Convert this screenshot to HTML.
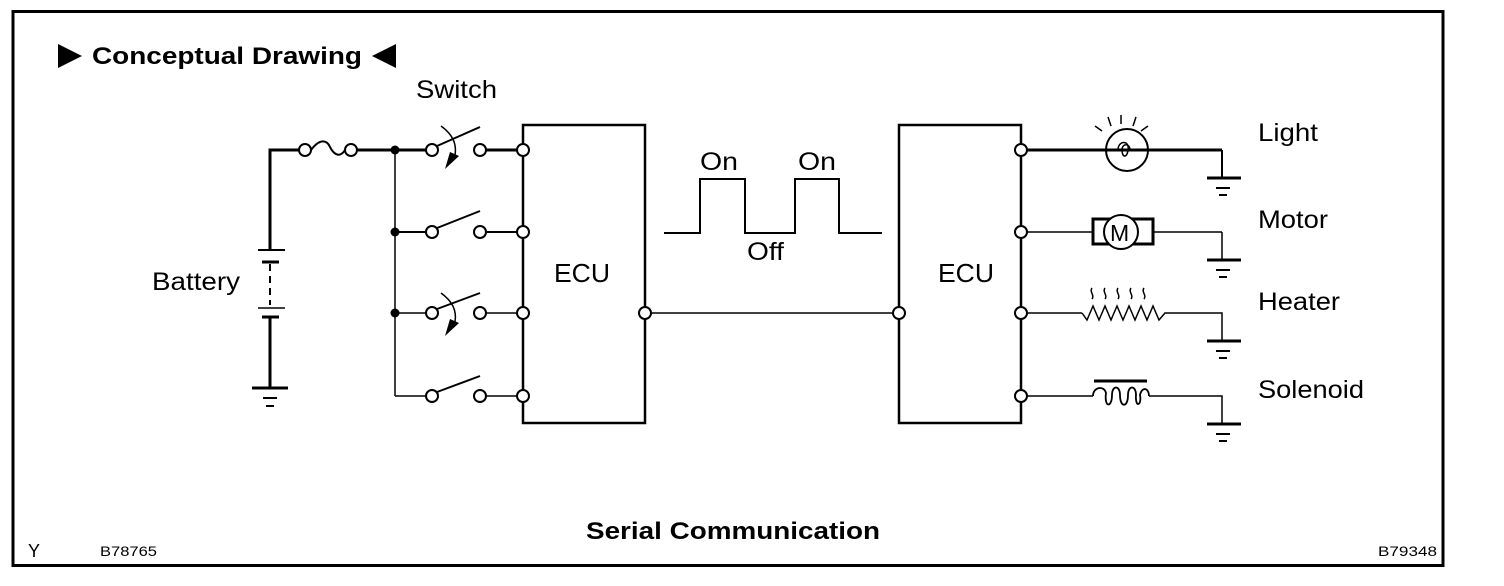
<!DOCTYPE html>
<html><head><meta charset="utf-8"><style>
html,body{margin:0;padding:0;background:#fff;}
svg{display:block;}
text{font-family:"Liberation Sans",sans-serif;fill:#000;}
</style></head><body>
<svg width="1504" height="586" viewBox="0 0 1504 586" xmlns="http://www.w3.org/2000/svg">
<rect x="13" y="11.5" width="1430" height="554" fill="none" stroke="#000" stroke-width="3"/>
<polygon points="58,44 82,56 58,68" fill="#000"/>
<text x="92" y="64" font-size="24" font-weight="bold" textLength="270" lengthAdjust="spacingAndGlyphs">Conceptual Drawing</text>
<polygon points="396,44 372,56 396,68" fill="#000"/>
<text x="416" y="98" font-size="25" textLength="81" lengthAdjust="spacingAndGlyphs">Switch</text>
<text x="152" y="290" font-size="25" textLength="88" lengthAdjust="spacingAndGlyphs">Battery</text>
<text x="554" y="282" font-size="26" textLength="56" lengthAdjust="spacingAndGlyphs">ECU</text>
<text x="938" y="282" font-size="26" textLength="56" lengthAdjust="spacingAndGlyphs">ECU</text>
<text x="700" y="170" font-size="25" textLength="38" lengthAdjust="spacingAndGlyphs">On</text>
<text x="798" y="170" font-size="25" textLength="38" lengthAdjust="spacingAndGlyphs">On</text>
<text x="747" y="260" font-size="25" textLength="37" lengthAdjust="spacingAndGlyphs">Off</text>
<text x="1258" y="141" font-size="25" textLength="60" lengthAdjust="spacingAndGlyphs">Light</text>
<text x="1258" y="228" font-size="25" textLength="70" lengthAdjust="spacingAndGlyphs">Motor</text>
<text x="1258" y="310" font-size="25" textLength="82" lengthAdjust="spacingAndGlyphs">Heater</text>
<text x="1258" y="398" font-size="25" textLength="106" lengthAdjust="spacingAndGlyphs">Solenoid</text>
<text x="586" y="539" font-size="24" font-weight="bold" textLength="294" lengthAdjust="spacingAndGlyphs">Serial Communication</text>
<text x="28" y="557" font-size="18">Y</text>
<text x="100" y="556" font-size="14" textLength="57" lengthAdjust="spacingAndGlyphs">B78765</text>
<text x="1378" y="556" font-size="14" textLength="59" lengthAdjust="spacingAndGlyphs">B79348</text>

<g stroke="#000" fill="none">
<polyline points="270,250 270,150 300,150" stroke-width="3"/>
<line x1="258" y1="250" x2="285" y2="250" stroke-width="2"/>
<line x1="262" y1="262" x2="279" y2="262" stroke-width="3"/>
<line x1="270" y1="264" x2="270" y2="305" stroke-width="2" stroke-dasharray="7,5"/>
<line x1="258" y1="308" x2="285" y2="308" stroke-width="1.5"/>
<line x1="262" y1="317" x2="279" y2="317" stroke-width="3"/>
<line x1="270" y1="317" x2="270" y2="388" stroke-width="3"/>
<line x1="252" y1="388" x2="288" y2="388" stroke-width="3"/>
<line x1="263" y1="398" x2="277" y2="398" stroke-width="2"/>
<line x1="266" y1="406" x2="274" y2="406" stroke-width="2"/>
<circle cx="305" cy="150" r="6" stroke-width="2" fill="#fff"/>
<path d="M311,150 C320,138 327,140 330,147 C334,155 340,158 345,150" stroke-width="2"/>
<circle cx="351" cy="150" r="6" stroke-width="2" fill="#fff"/>
<line x1="357" y1="150" x2="426" y2="150" stroke-width="3"/>
<line x1="395" y1="150" x2="395" y2="396" stroke-width="1.5"/>
<circle cx="395" cy="150" r="4.5" fill="#000" stroke="none"/>
<circle cx="395" cy="232" r="4.5" fill="#000" stroke="none"/>
<circle cx="395" cy="313" r="4.5" fill="#000" stroke="none"/>
<line x1="395" y1="232" x2="426" y2="232" stroke-width="2"/>
<line x1="395" y1="313" x2="426" y2="313" stroke-width="1.5"/>
<line x1="395" y1="396" x2="426" y2="396" stroke-width="1.5"/>
<g stroke-width="2">
<circle cx="432" cy="150" r="6" fill="#fff"/><line x1="437" y1="146" x2="480" y2="127"/><circle cx="480" cy="150" r="6" fill="#fff"/>
<circle cx="432" cy="232" r="6" fill="#fff"/><line x1="437" y1="228" x2="480" y2="211"/><circle cx="480" cy="232" r="6" fill="#fff"/>
<circle cx="432" cy="313" r="6" fill="#fff"/><line x1="437" y1="309" x2="480" y2="293"/><circle cx="480" cy="313" r="6" fill="#fff"/>
<circle cx="432" cy="396" r="6" fill="#fff"/><line x1="437" y1="392" x2="480" y2="376"/><circle cx="480" cy="396" r="6" fill="#fff"/>
</g>
<path d="M441,126 C452,134 457,143 455,155" stroke-width="1.5"/>
<polygon points="445,169 450,152 459,156" fill="#000" stroke="none"/>
<path d="M441,293 C452,301 457,310 455,322" stroke-width="1.5"/>
<polygon points="445,336 450,319 459,323" fill="#000" stroke="none"/>
<line x1="486" y1="150" x2="517" y2="150" stroke-width="3"/>
<line x1="486" y1="232" x2="517" y2="232" stroke-width="2"/>
<line x1="486" y1="313" x2="517" y2="313" stroke-width="1.5"/>
<line x1="486" y1="396" x2="517" y2="396" stroke-width="1.5"/>
<rect x="523" y="125" width="122" height="298" stroke-width="2.5"/>
<rect x="899" y="125" width="122" height="298" stroke-width="2.5"/>
<g stroke-width="2" fill="#fff">
<circle cx="523" cy="150" r="6"/><circle cx="523" cy="232" r="6"/><circle cx="523" cy="313" r="6"/><circle cx="523" cy="396" r="6"/>
<circle cx="1021" cy="150" r="6"/><circle cx="1021" cy="232" r="6"/><circle cx="1021" cy="313" r="6"/><circle cx="1021" cy="396" r="6"/>
</g>
<line x1="651" y1="313" x2="893" y2="313" stroke-width="1.5"/>
<circle cx="645" cy="313" r="6" stroke-width="2" fill="#fff"/>
<circle cx="899" cy="313" r="6" stroke-width="2" fill="#fff"/>
<polyline points="664,233 700,233 700,179 745,179 745,233 795,233 795,179 839,179 839,233 882,233" stroke-width="2"/>
<line x1="1027" y1="150" x2="1222" y2="150" stroke-width="3"/>
<line x1="1222" y1="150" x2="1222" y2="178" stroke-width="2"/>
<circle cx="1127" cy="150" r="21" stroke-width="2"/>
<path d="M1106,150 H1118 C1118,140 1130,140 1128,150 C1127,158 1122,158 1122,150 C1122,143 1130,143 1130,150 H1148" stroke-width="1.5"/>
<g stroke-width="1.5">
<line x1="1121" y1="115" x2="1121" y2="124"/>
<line x1="1108" y1="117" x2="1111" y2="126"/>
<line x1="1095" y1="126" x2="1102" y2="131"/>
<line x1="1136" y1="117" x2="1133" y2="126"/>
<line x1="1148" y1="126" x2="1141" y2="131"/>
</g>
<line x1="1027" y1="232" x2="1093" y2="232" stroke-width="1.5"/>
<rect x="1093" y="219" width="60" height="25" stroke-width="3"/>
<circle cx="1121" cy="232" r="17" stroke-width="2" fill="#fff"/>
<line x1="1153" y1="232" x2="1222" y2="232" stroke-width="1.5"/>
<line x1="1222" y1="232" x2="1222" y2="260" stroke-width="1.5"/>
<text x="1110" y="241" font-size="23" fill="#000" stroke="none">M</text>
<line x1="1027" y1="313" x2="1082" y2="313" stroke-width="1.5"/>
<polyline points="1082,313 1087,320 1093,306 1099,320 1105,306 1111,320 1117,306 1123,320 1129,306 1135,320 1141,306 1147,320 1153,306 1159,320 1165,313 1222,313 1222,341" stroke-width="1.5"/>
<g stroke-width="1.5">
<path d="M1092,288 c-3,4 3,7 0,11"/><path d="M1105,288 c-3,4 3,7 0,11"/><path d="M1118,288 c-3,4 3,7 0,11"/><path d="M1131,288 c-3,4 3,7 0,11"/><path d="M1144,288 c-3,4 3,7 0,11"/>
</g>
<line x1="1027" y1="396" x2="1093" y2="396" stroke-width="1.5"/>
<line x1="1094" y1="381" x2="1147" y2="381" stroke-width="3"/>
<path d="M1093,396 C1093,387 1104,385 1106,393 C1104,408 1112,408 1112,395 C1112,385 1120,385 1120,395 C1120,408 1128,408 1128,395 C1128,385 1136,385 1136,395 C1135,408 1142,406 1140,395 C1142,386 1149,388 1149,396" stroke-width="1.8"/>
<polyline points="1149,396 1222,396 1222,424" stroke-width="1.5"/>
<g stroke-width="3">
<line x1="1207" y1="178" x2="1241" y2="178"/><line x1="1207" y1="260" x2="1241" y2="260"/><line x1="1207" y1="341" x2="1241" y2="341"/><line x1="1207" y1="424" x2="1241" y2="424"/>
</g>
<g stroke-width="2">
<line x1="1216" y1="188" x2="1230" y2="188"/><line x1="1219" y1="195" x2="1227" y2="195"/>
<line x1="1216" y1="270" x2="1230" y2="270"/><line x1="1219" y1="277" x2="1227" y2="277"/>
<line x1="1216" y1="351" x2="1230" y2="351"/><line x1="1219" y1="358" x2="1227" y2="358"/>
<line x1="1216" y1="434" x2="1230" y2="434"/><line x1="1219" y1="441" x2="1227" y2="441"/>
</g>
</g>
</svg>
</body></html>
